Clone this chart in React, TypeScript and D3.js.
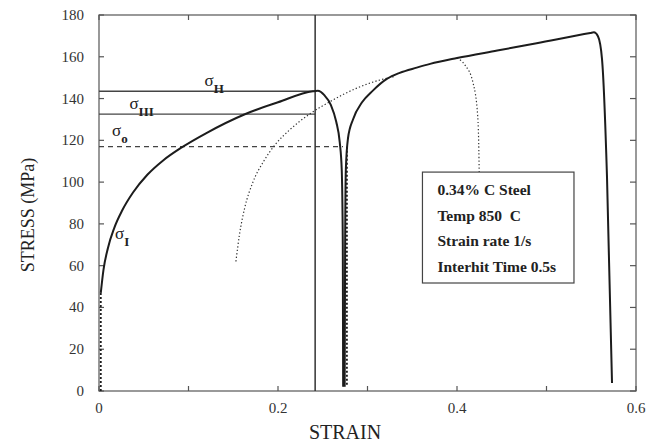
import React, { useRef, useEffect } from "react";
import { select, scaleLinear, line, curveMonotoneX } from "d3";

// first hit: loading then unloading
const firstHitStrain = [0.002, 0.005, 0.01, 0.017, 0.026, 0.038, 0.054, 0.072, 0.092, 0.12, 0.163, 0.2, 0.239, 0.2445, 0.252, 0.259, 0.265, 0.269, 0.2712, 0.2724, 0.2728];
const firstHitStress = [47, 58, 68.5, 78, 86.5, 95, 103.5, 110.5, 116.5, 123.5, 132.5, 138.2, 143.5, 143.7, 141.5, 137, 129, 119, 106, 70, 2];

// second hit: reloading to fracture
const secondHitStrain = [0.2745, 0.275, 0.2758, 0.2782, 0.2838, 0.2939, 0.306, 0.322, 0.336, 0.355, 0.37, 0.4, 0.445, 0.489, 0.549, 0.553, 0.5575, 0.562, 0.5676, 0.5732];
const secondHitStress = [2, 70, 106, 121, 130, 138.2, 143.8, 149.5, 152.3, 154.8, 156.6, 159.4, 163, 166.5, 171.4, 171.7, 169.8, 159, 102.4, 3.8];

// dotted reference curves
const offsetStrain = [0.153, 0.157, 0.163, 0.172, 0.184, 0.197, 0.213, 0.235, 0.258, 0.288, 0.314, 0.33];
const offsetStress = [62, 75, 88, 100, 110, 118, 125, 132.5, 138.5, 145, 148.9, 150.5];
const softeningStrain = [0.4, 0.409, 0.418, 0.4232, 0.4244, 0.4248];
const softeningStress = [159.4, 156, 147.4, 131.2, 115.4, 104.8];

const sigmaH = 143.5;
const sigmaIII = 132.5;
const sigmaO = 117;
const holdStrain = 0.2415;
const elasticStrain1 = 0.002;
const elasticTop1 = 47;
const elasticStrain2 = 0.277;

const xTicks = [0, 0.1, 0.2, 0.3, 0.4, 0.5, 0.6];
const xTickLabels = ["0", "", "0.2", "", "0.4", "", "0.6"];
const yTicks = [0, 20, 40, 60, 80, 100, 120, 140, 160, 180];

const legendLines = ["0.34% C Steel", "Temp 850\u00a0\u00a0C", "Strain rate 1/s", "Interhit Time 0.5s"];

const zip = (xs: number[], ys: number[]) => xs.map((d, i) => [d, ys[i]] as [number, number]);

function StressStrainChart() {
  const svgRef = useRef<SVGSVGElement>(null);
  useEffect(() => {
    const svg = select(svgRef.current);
    svg.selectAll("*").remove();
    const font = "'Liberation Serif', 'Times New Roman', serif";
    const ink = "#1c1c1c";

    const x = scaleLinear().domain([0, 0.6]).range([99, 636]);
    const y = scaleLinear().domain([0, 180]).range([391, 15]);

    const path = line<[number, number]>()
      .x((d) => x(d[0]))
      .y((d) => y(d[1]))
      .curve(curveMonotoneX);

    // frame
    svg.append("rect")
      .attr("x", x(0)).attr("y", y(180))
      .attr("width", x(0.6) - x(0)).attr("height", y(0) - y(180))
      .attr("fill", "none").attr("stroke", "#555").attr("stroke-width", 1.2);

    // ticks (inward, all sides)
    xTicks.forEach((t) => {
      svg.append("line").attr("x1", x(t)).attr("x2", x(t)).attr("y1", y(0)).attr("y2", y(0) - 5)
        .attr("stroke", "#555").attr("stroke-width", 1.2);
      svg.append("line").attr("x1", x(t)).attr("x2", x(t)).attr("y1", y(180)).attr("y2", y(180) + 5)
        .attr("stroke", "#555").attr("stroke-width", 1.2);
    });
    yTicks.forEach((t) => {
      svg.append("line").attr("x1", x(0)).attr("x2", x(0) + 5).attr("y1", y(t)).attr("y2", y(t))
        .attr("stroke", "#555").attr("stroke-width", 1.2);
      svg.append("line").attr("x1", x(0.6)).attr("x2", x(0.6) - 6).attr("y1", y(t)).attr("y2", y(t))
        .attr("stroke", "#555").attr("stroke-width", 1.2);
    });

    svg.selectAll(".xlabel").data(xTicks).join("text")
      .attr("class", "xlabel")
      .attr("x", (d) => x(d)).attr("y", 413)
      .attr("text-anchor", "middle")
      .attr("font-family", font).attr("font-size", 15).attr("fill", "#333")
      .text((d, i) => xTickLabels[i]);

    svg.selectAll(".ylabel").data(yTicks).join("text")
      .attr("class", "ylabel")
      .attr("x", 84).attr("y", (d) => y(d) + 5)
      .attr("text-anchor", "end")
      .attr("font-family", font).attr("font-size", 15).attr("fill", "#333")
      .text((d) => d);

    svg.append("text")
      .attr("x", 345).attr("y", 439)
      .attr("text-anchor", "middle")
      .attr("font-family", font).attr("font-size", 20).attr("fill", "#222")
      .text("STRAIN");

    svg.append("text")
      .attr("transform", "translate(34,215) rotate(-90)")
      .attr("text-anchor", "middle")
      .attr("font-family", font).attr("font-size", 18).attr("fill", "#222")
      .text("STRESS (MPa)");

    // reference stress levels
    svg.append("line")
      .attr("x1", x(0)).attr("x2", x(holdStrain)).attr("y1", y(sigmaH)).attr("y2", y(sigmaH))
      .attr("stroke", "#444").attr("stroke-width", 1.3);
    svg.append("line")
      .attr("x1", x(0)).attr("x2", x(holdStrain)).attr("y1", y(sigmaIII)).attr("y2", y(sigmaIII))
      .attr("stroke", "#444").attr("stroke-width", 1.3);
    svg.append("line")
      .attr("x1", x(0)).attr("x2", x(0.2726)).attr("y1", y(sigmaO)).attr("y2", y(sigmaO))
      .attr("stroke", "#444").attr("stroke-width", 1.2).attr("stroke-dasharray", "5,4");

    // unloading point
    svg.append("line")
      .attr("x1", x(holdStrain)).attr("x2", x(holdStrain)).attr("y1", y(0)).attr("y2", y(180))
      .attr("stroke", "#333").attr("stroke-width", 1.5);

    // dotted elastic lines
    svg.append("line")
      .attr("x1", x(elasticStrain1)).attr("x2", x(elasticStrain1)).attr("y1", y(0)).attr("y2", y(elasticTop1))
      .attr("stroke", ink).attr("stroke-width", 1.8).attr("stroke-dasharray", "2,2");
    svg.append("line")
      .attr("x1", x(elasticStrain2)).attr("x2", x(elasticStrain2)).attr("y1", y(3)).attr("y2", y(sigmaO))
      .attr("stroke", ink).attr("stroke-width", 1.8).attr("stroke-dasharray", "2,2");

    // dotted curves
    [zip(offsetStrain, offsetStress), zip(softeningStrain, softeningStress)].forEach((pts) => {
      svg.append("path").attr("d", path(pts))
        .attr("fill", "none").attr("stroke", "#333").attr("stroke-width", 1.2)
        .attr("stroke-dasharray", "1.3,2.2");
    });

    // flow curves
    [zip(firstHitStrain, firstHitStress), zip(secondHitStrain, secondHitStress)].forEach((pts) => {
      svg.append("path").attr("d", path(pts))
        .attr("fill", "none").attr("stroke", ink).attr("stroke-width", 2)
        .attr("stroke-linejoin", "round");
    });

    // sigma annotations
    const sigmaLabels = [
      { s: 0.118, v: 146, sub: "H" },
      { s: 0.034, v: 135, sub: "III" },
      { s: 0.0145, v: 122, sub: "o" },
      { s: 0.018, v: 73, sub: "I" },
    ];
    sigmaLabels.forEach((d) => {
      const t = svg.append("text")
        .attr("x", x(d.s)).attr("y", y(d.v))
        .attr("font-family", font).attr("font-size", 17).attr("fill", "#222");
      t.append("tspan").text("σ");
      t.append("tspan").attr("dy", 7).attr("font-size", 13).attr("font-weight", "bold").text(d.sub);
    });

    // legend box
    svg.append("rect")
      .attr("x", x(0.3614)).attr("y", y(104.8))
      .attr("width", x(0.5307) - x(0.3614)).attr("height", y(51.7) - y(104.8))
      .attr("fill", "#fff").attr("stroke", "#444").attr("stroke-width", 1.2);
    svg.selectAll(".legend").data(legendLines).join("text")
      .attr("class", "legend")
      .attr("x", x(0.3614) + 15).attr("y", (d, i) => y(104.8) + 23 + i * 25.5)
      .attr("font-family", font).attr("font-size", 15.5).attr("font-weight", "bold").attr("fill", "#222")
      .text((d) => d);
  }, []);
  return (
    <svg ref={svgRef} width={656} height={447}
      style={{ position: "absolute", left: 0, top: 0, background: "#fff" }}></svg>
  );
}

export default function App() {
  return <StressStrainChart />;
}
